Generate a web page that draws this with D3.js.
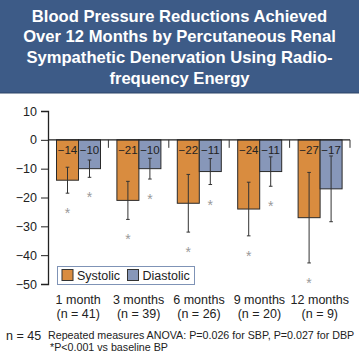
<!DOCTYPE html>
<meta charset="utf-8">
<script src="https://d3js.org/d3.v7.min.js"></script>
<style>
    body { margin: 0; background: #fff; }
    svg { display: block; font-family: "Liberation Sans", Arial, sans-serif; }
</style>
<div id="vis"></div>
<script>
    // data
    var months = ["1 month", "3 months", "6 months", "9 months", "12 months"];
    var nLabels = ["(n = 41)", "(n = 39)", "(n = 26)", "(n = 20)", "(n = 9)"];
    var systolic = [-14, -21, -22, -24, -27];
    var diastolic = [-10, -10, -11, -11, -17];
    var sysErr = [4.5, 6.6, 10, 9.3, 15.7];
    var diaErr = [3, 3.6, 4.5, 5.1, 11.4];
    var sysSig = [true, true, true, true, true];
    var diaSig = [true, true, true, true, false];
    var yTicks = [10, 0, -10, -20, -30, -40, -50];
    var titleLines = ["Blood Pressure Reductions Achieved", "Over 12 Months by Percutaneous Renal",
        "Sympathetic Denervation Using Radio-", "frequency Energy"];

    var W = 359, H = 354;
    var orange = "#d98c3f", blue = "#8797b9", navy = "#3d5b87";

    var svg = d3.select("#vis").append("svg")
        .attr("width", W).attr("height", H);

    // title banner
    svg.append("rect").attr("x", 0).attr("y", 0).attr("width", W).attr("height", 93)
        .attr("fill", navy);
    svg.append("line").attr("x1", 0).attr("x2", W).attr("y1", 93).attr("y2", 93)
        .attr("stroke", "#2c4466").attr("stroke-width", 1);
    svg.selectAll(".ttl").data(titleLines).enter().append("text")
        .attr("x", W / 2).attr("y", function (d, i) { return 21.5 + i * 20.7; })
        .attr("text-anchor", "middle").attr("fill", "#fff")
        .style("font-size", "16.6px").style("font-weight", "bold")
        .text(function (d) { return d; });

    // scales
    var y = d3.scaleLinear().domain([-50, 10]).range([284, 111]);
    var x0 = d3.scaleBand().domain(months).range([48, 350]);
    var x1 = d3.scaleBand().domain(["s", "d"]).range([8.5, 52.5]);

    // y axis
    var yAxis = svg.append("g").attr("transform", "translate(48,0)")
        .call(d3.axisLeft(y).tickValues(yTicks).tickSize(7).tickPadding(4)
            .tickFormat(function (d) { return d3.format("")(d).replace("-", "\u2212"); }));
    yAxis.select(".domain").attr("stroke", "#222").attr("stroke-width", 1.3);
    yAxis.selectAll(".tick line").attr("stroke", "#222");
    yAxis.selectAll("text").attr("fill", "#222").style("font-size", "12.5px")
        .style("font-family", "Liberation Sans, Arial, sans-serif");

    // bars
    function drawSeries(vals, errs, sig, key, color) {
        var g = svg.append("g");
        months.forEach(function (m, i) {
            var bx = x0(m) + x1(key), bw = x1.bandwidth();
            g.append("rect")
                .attr("x", bx).attr("y", y(0))
                .attr("width", bw).attr("height", y(vals[i]) - y(0))
                .attr("fill", color).attr("stroke", "#2a2a2a").attr("stroke-width", 1);
            var cx = bx + bw / 2;
            var lo = vals[i] - errs[i], hi = vals[i] + errs[i];
            g.append("line").attr("x1", cx).attr("x2", cx)
                .attr("y1", y(hi)).attr("y2", y(lo))
                .attr("stroke", "#333").attr("stroke-width", 1);
            [hi, lo].forEach(function (v) {
                g.append("line").attr("x1", cx - 1.8).attr("x2", cx + 1.8)
                    .attr("y1", y(v)).attr("y2", y(v))
                    .attr("stroke", "#333").attr("stroke-width", 1);
            });
            g.append("text").attr("x", cx).attr("y", y(0) + 14)
                .attr("text-anchor", "middle").attr("fill", "#222")
                .style("font-size", "11.5px")
                .text(String(vals[i]).replace("-", "\u2212"));
            if (sig[i]) {
                g.append("text").attr("x", cx).attr("y", y(lo) + 25)
                    .attr("text-anchor", "middle").attr("fill", "#999")
                    .style("font-size", "14px").text("*");
            }
        });
    }
    drawSeries(systolic, sysErr, sysSig, "s", orange);
    drawSeries(diastolic, diaErr, diaSig, "d", blue);

    // zero baseline with group separators
    svg.append("line").attr("x1", 48).attr("x2", 350).attr("y1", y(0)).attr("y2", y(0))
        .attr("stroke", "#222").attr("stroke-width", 1.3);
    months.forEach(function (m) {
        var xe = x0(m) + x0.bandwidth();
        svg.append("line").attr("x1", xe).attr("x2", xe)
            .attr("y1", y(0)).attr("y2", y(0) + 8)
            .attr("stroke", "#333").attr("stroke-width", 1);
    });

    // legend
    var lg = svg.append("g");
    lg.append("rect").attr("x", 57.5).attr("y", 266.5).attr("width", 137).attr("height", 18)
        .attr("fill", "#fff").attr("stroke", "#7f93b6").attr("stroke-width", 1);
    [["Systolic", orange, 62], ["Diastolic", blue, 127.5]].forEach(function (d) {
        lg.append("rect").attr("x", d[2]).attr("y", 269.5).attr("width", 11).attr("height", 11)
            .attr("fill", d[1]).attr("stroke", "#333").attr("stroke-width", 1);
        lg.append("text").attr("x", d[2] + 15).attr("y", 279.5)
            .attr("fill", "#222").style("font-size", "12.5px").text(d[0]);
    });

    // x labels
    months.forEach(function (m, i) {
        var cx = x0(m) + x0.bandwidth() / 2;
        svg.append("text").attr("x", cx).attr("y", 304).attr("text-anchor", "middle")
            .attr("fill", "#222").style("font-size", "12.5px").text(m);
        svg.append("text").attr("x", cx).attr("y", 318).attr("text-anchor", "middle")
            .attr("fill", "#222").style("font-size", "12.5px").text(nLabels[i]);
    });

    // footnotes
    svg.append("text").attr("x", 6).attr("y", 340).attr("fill", "#222")
        .style("font-size", "12.5px").text("n = 45");
    svg.append("text").attr("x", 48).attr("y", 338.5).attr("fill", "#222")
        .style("font-size", "10.7px").text("Repeated measures ANOVA: P=0.026 for SBP, P=0.027 for DBP");
    svg.append("text").attr("x", 50).attr("y", 351).attr("fill", "#222")
        .style("font-size", "10.7px").text("*P<0.001 vs baseline BP");
</script>
